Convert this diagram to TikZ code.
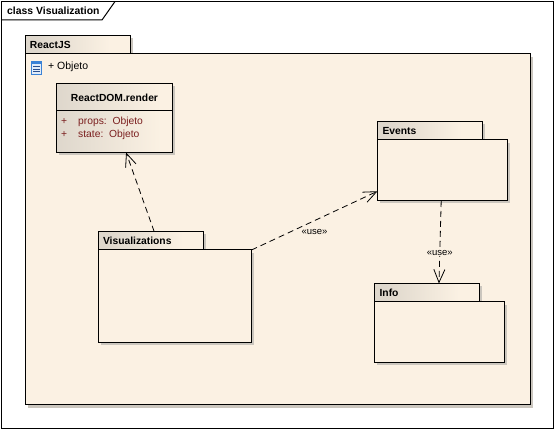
\documentclass[tikz,border=0pt]{standalone}
\usepackage{fontspec}
\setmainfont{Liberation Sans}
\usetikzlibrary{arrows.meta,calc}
\definecolor{cream}{HTML}{FBF1E3}
\definecolor{shade}{HTML}{CBC6BE}
\definecolor{grad}{HTML}{DED7CC}
\definecolor{attr}{HTML}{7B1F1F}
\definecolor{iconblue}{HTML}{3A82D6}
\definecolor{icondark}{HTML}{2A4F8F}
\pgfdeclarehorizontalshading{tabshade}{100bp}{color(0bp)=(grad); color(30bp)=(grad); color(65bp)=(cream); color(100bp)=(cream)}
\pgfdeclarehorizontalshading{classshade}{100bp}{color(0bp)=(grad); color(25bp)=(grad); color(70bp)=(cream); color(100bp)=(cream)}
\tikzset{
  x=1pt,y=-1pt,
  boxline/.style={draw=black,line width=1pt,inner sep=0pt,outer sep=0pt},
  pkgbody/.style={boxline,fill=cream,anchor=north west},
  pkgtab/.style={boxline,shading=tabshade,anchor=north west,minimum width=105pt,minimum height=18.5pt,text width=96pt,align=left,font=\bfseries\fontsize{10.3}{12}\selectfont},
  sizedbox/.style n args={2}{minimum width=#1,minimum height=#2},
  shadowbox/.style={fill=shade,draw=none},
  dep/.style={draw=black,line width=0.8pt,dash pattern=on 6pt off 4pt,-{Straight Barb[length=13pt,width=11pt,line width=0.8pt]}},
  stereo/.style={font=\fontsize{9.5}{11}\selectfont,fill=cream,inner sep=0.5pt},
  attrtext/.style={font=\fontsize{10.3}{12}\selectfont,text=attr,anchor=base west,inner sep=0pt},
  plain/.style={font=\fontsize{10.5}{12}\selectfont,anchor=base west,inner sep=0pt}
}
\begin{document}
\begin{tikzpicture}
\useasboundingbox (0,0) rectangle (555,430);
\fill[white] (0,0) rectangle (555,430);
% frame
\draw[line width=1pt] (1.5,1.5) rectangle (553.5,429);
\draw[line width=1pt] (1.5,20) -- (102,20) -- (115,1.5);
\node[anchor=base west,inner sep=0pt,font=\bfseries\fontsize{10.4}{12}\selectfont] (frametitle) at (7,14.5) {class Visualization};
% ReactJS package
\fill[shadowbox] (28,38) rectangle (133,57);
\fill[shadowbox] (28,57) rectangle (533,408);
\node[pkgtab] (reacttab) at (25.5,35.5) {ReactJS};
\node[pkgbody,sizedbox={505pt}{351pt}] (reactbody) at (25.5,54) {};
% icon
\fill[white!85!iconblue] (31,61) rectangle (42,75);
\draw[draw=iconblue,line width=1pt] (31.5,61.5) rectangle (41.5,74.5);
\fill[iconblue] (31.5,61.5) rectangle (41.5,64.5);
\foreach \iy in {66.5,69,71.5} {\draw[icondark,line width=0.8pt] (33,\iy) -- (40,\iy);}
\node[plain] (attrmain) at (48,69.5) {+ Objeto};
% class
\fill[shadowbox] (59,86) rectangle (175,155);
\node[boxline,shading=classshade,anchor=north west,sizedbox={116pt}{69pt}] (classbox) at (56.5,83.5) {};
\draw[line width=1pt] (classbox.west |- 0,110.5) coordinate (divl) -- (classbox.east |- 0,110.5) coordinate (divr);
\node[font=\bfseries\fontsize{10.3}{12}\selectfont,inner sep=0pt,anchor=base] (classname) at (114.5,102) {ReactDOM.render};
\node[attrtext] (plus1) at (61,124.5) {+};
\node[attrtext] (prop1) at (78,124.5) {props:\ \ Objeto};
\node[attrtext] (plus2) at (61,137.5) {+};
\node[attrtext] (prop2) at (78,137.5) {state:\ \ Objeto};
% Events
\fill[shadowbox] (380,124) rectangle (485,143);
\fill[shadowbox] (380,143) rectangle (510,203.5);
\node[pkgtab] (eventstab) at (377.5,121.5) {\hspace{0.6pt}Events};
\node[pkgbody,sizedbox={130pt}{61pt}] (eventsbody) at (377.5,140) {};
% Info
\fill[shadowbox] (377,286) rectangle (482,305);
\fill[shadowbox] (377,305) rectangle (507,365.5);
\node[pkgtab] (infotab) at (374.5,283.5) {\hspace{0.6pt}Info};
\node[pkgbody,sizedbox={130pt}{61pt}] (infobody) at (374.5,302) {};
% Visualizations
\fill[shadowbox] (101,234) rectangle (205.5,253);
\node[pkgtab] (vistab) at (98.5,231.5) {Visualizations};
\fill[shadowbox] (101,253) rectangle (254,345.5);
\node[pkgbody,sizedbox={153pt}{93pt}] (visbody) at (98.5,250) {};
% connectors
\draw[dep] ($(vistab.north west)!0.53!(vistab.north east)$) -- ($(classbox.south west)!0.6!(classbox.south east)$);
\draw[dep] (visbody.north east) -- node[stereo,pos=0.5,yshift=-11.5pt] (uselabel1) {«use»} ($(eventsbody.north west)!0.84!(eventsbody.south west)$);
\draw[dep] ($(eventsbody.south west)!0.49!(eventsbody.south east)$) -- node[stereo,pos=0.63] (uselabel2) {«use»} ($(infotab.north west)!0.614!(infotab.north east)$);
\end{tikzpicture}
\end{document}
